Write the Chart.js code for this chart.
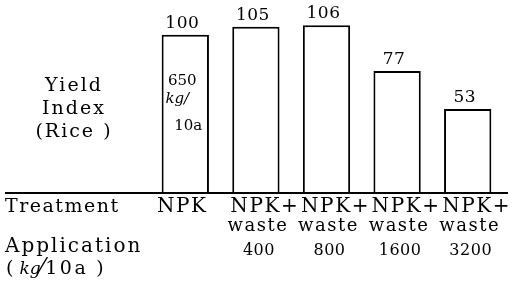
<!DOCTYPE html>
<html>
<head>
<meta charset="utf-8">
<script src="https://cdn.jsdelivr.net/npm/chart.js@4/dist/chart.umd.min.js"></script>
<style>
  html, body { margin: 0; padding: 0; background: #fff; }
</style>
</head>
<body>
<canvas id="chart" width="512" height="299"></canvas>
<script>
// data
const treatments = [['NPK'], ['NPK+', 'waste'], ['NPK+', 'waste'], ['NPK+', 'waste'], ['NPK+', 'waste']];
const yieldIndex = [100, 105, 106, 77, 53];
const application = ['', '400', '800', '1600', '3200'];
const yTitle = ['Yield', 'Index', '(Rice )'];
const controlNote = ['650', 'kg/', '10a'];

const FONT = '"DejaVu Serif", "Liberation Serif", serif';

function text(ctx, str, x, y, opts = {}) {
  const size = opts.size || 16;
  ctx.save();
  ctx.font = (opts.italic ? 'italic ' : '') + size + 'px ' + FONT;
  ctx.fillStyle = '#000';
  ctx.textAlign = opts.align || 'left';
  ctx.textBaseline = 'alphabetic';
  ctx.letterSpacing = (opts.spacing || 0) + 'px';
  ctx.fillText(str, x, y);
  const w = ctx.measureText(str).width;
  ctx.restore();
  return w;
}

const labelsPlugin = {
  id: 'labels',
  afterDraw(chart) {
    const ctx = chart.ctx;
    const x = chart.scales.x;
    const y = chart.scales.y;
    const base = y.getPixelForValue(0);

    // long base line
    ctx.save();
    ctx.strokeStyle = '#000';
    ctx.lineWidth = 2;
    ctx.beginPath();
    ctx.moveTo(5, base);
    ctx.lineTo(508, base);
    ctx.stroke();
    ctx.restore();

    // values over bars
    const meta = chart.getDatasetMeta(0);
    meta.data.forEach((bar, i) => {
      text(ctx, String(yieldIndex[i]), bar.x - 3, bar.y - 7, { align: 'center', size: 17, spacing: 0.5 });
    });

    // note inside the control bar
    const b0 = meta.data[0];
    text(ctx, controlNote[0], b0.x - 3, y.getPixelForValue(68), { align: 'center', size: 15 });
    text(ctx, controlNote[1], b0.x - 8, y.getPixelForValue(57), { align: 'center', size: 15, italic: true });
    text(ctx, controlNote[2], b0.x + 3, y.getPixelForValue(40), { align: 'center', size: 15 });

    // axis title, left
    yTitle.forEach((t, k) => {
      text(ctx, t, 74, 91 + k * 23, { align: 'center', size: 19, spacing: 2 });
    });

    // category labels
    treatments.forEach((lines, i) => {
      const cx = x.getPixelForValue(i);
      text(ctx, lines[0], cx + (i === 0 ? -3 : 9), 212, { align: 'center', size: 20, spacing: 1.6 });
      if (lines[1]) {
        text(ctx, lines[1], cx + 2, 231, { align: 'center', size: 18, spacing: 1.5 });
      }
      if (application[i]) {
        text(ctx, application[i], cx + 3, 255, { align: 'center', size: 16, spacing: 0.5 });
      }
    });

    text(ctx, 'Treatment', 5, 212, { size: 19, spacing: 1.5 });
    text(ctx, 'Application', 5, 252, { size: 20, spacing: 2 });
    // "( kg/10a )"
    let px = 6;
    px += text(ctx, '(', px, 274, { size: 19 }) + 6;
    px += text(ctx, 'kg', px, 274, { size: 17, italic: true });
    px += text(ctx, '\u2044', px, 274, { size: 22 }) + 1;
    px += text(ctx, '10a', px, 274, { size: 19, spacing: 2.5 }) + 8;
    text(ctx, ')', px, 274, { size: 19 });
  }
};

new Chart(document.getElementById('chart'), {
  type: 'bar',
  data: {
    labels: treatments.map((t) => t.join(' ')),
    datasets: [{
      data: yieldIndex,
      backgroundColor: '#fff',
      borderColor: '#000',
      borderWidth: 2,
      barPercentage: 0.67,
      categoryPercentage: 1,
    }],
  },
  options: {
    responsive: false,
    devicePixelRatio: 1,
    animation: false,
    layout: { padding: { left: 150, right: 9, top: 3, bottom: 106 } },
    plugins: { legend: { display: false }, tooltip: { enabled: false } },
    scales: {
      x: { display: false },
      y: { display: false, min: 0, max: 120 },
    },
  },
  plugins: [labelsPlugin],
});
</script>
</body>
</html>
